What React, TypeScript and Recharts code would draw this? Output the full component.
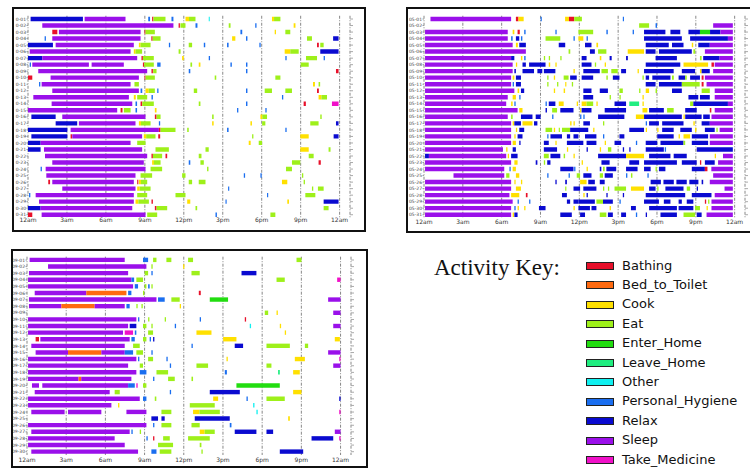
import React from 'react'
import { BarChart, Bar, XAxis, YAxis, CartesianGrid, Cell } from 'recharts'

type Seg = [string, number, number]

const ACTIVITIES = ['Bathing', 'Bed_to_Toilet', 'Cook', 'Eat', 'Enter_Home', 'Leave_Home', 'Other', 'Personal_Hygiene', 'Relax', 'Sleep', 'Take_Medicine']
const CODES = ['B', 'T', 'C', 'E', 'H', 'L', 'O', 'P', 'R', 'S', 'M']
const COLORS = ['#e8102a', '#ff6a10', '#ffe000', '#9ef01a', '#22dd10', '#20ee80', '#10f0f0', '#1a6ef0', '#0a0ad0', '#9a10ea', '#f010c8']

const HOUR_TICKS = [0, 3, 6, 9, 12, 15, 18, 21, 24]
const HOUR_LABELS = ['12am', '3am', '6am', '9am', '12pm', '3pm', '6pm', '9pm', '12am']

const DAYS_A = ['0-01', '0-02', '0-03', '0-04', '0-05', '0-06', '0-07', '0-08', '0-09', '0-10', '0-11', '0-12', '0-13', '0-14', '0-15', '0-16', '0-17', '0-18', '0-19', '0-20', '0-21', '0-22', '0-23', '0-24', '0-25', '0-26', '0-27', '0-28', '0-29', '0-30', '0-31']
const DAYS_B = ['05-01', '05-02', '05-03', '05-04', '05-05', '05-06', '05-07', '05-08', '05-09', '05-10', '05-11', '05-12', '05-13', '05-14', '05-15', '05-16', '05-17', '05-18', '05-19', '05-20', '05-21', '05-22', '05-23', '05-24', '05-25', '05-26', '05-27', '05-28', '05-29', '05-30', '05-31']
const DAYS_C = ['09-01', '09-02', '09-03', '09-04', '09-05', '09-06', '09-07', '09-08', '09-09', '09-10', '09-11', '09-12', '09-13', '09-14', '09-15', '09-16', '09-17', '09-18', '09-19', '09-20', '09-21', '09-22', '09-23', '09-24', '09-25', '09-26', '09-27', '09-28', '09-29', '09-30']

const SEGS_A: Seg[][] = [
  [['R', 0.2, 4.23], ['S', 4.36, 7.51], ['P', 9.26, 9.4], ['B', 9.56, 9.66], ['E', 9.66, 10.59], ['P', 11.05, 11.2], ['C', 12.13, 12.4], ['E', 12.4, 12.9], ['O', 13.92, 14.0], ['C', 18.79, 18.95], ['E', 18.95, 19.44]],
  [['S', 1.1, 11.2], ['B', 11.6, 11.7], ['E', 11.74, 12.13], ['P', 12.9, 13.05], ['E', 15.46, 15.6], ['P', 17.5, 17.6], ['C', 20.46, 20.6]],
  [['B', 1.87, 2.26], ['S', 2.38, 8.67], ['B', 8.97, 9.05], ['E', 9.05, 9.77], ['P', 16.36, 16.5], ['C', 19.0, 19.1], ['E', 19.82, 20.2]],
  [['P', 1.28, 1.38], ['S', 1.87, 8.67], ['B', 9.5, 9.6], ['E', 9.6, 10.21], ['C', 15.72, 15.97], ['P', 16.79, 16.9], ['E', 21.49, 21.87], ['R', 23.5, 23.92]],
  [['R', 0, 1.92], ['S', 2.13, 8.15], ['C', 8.54, 8.67], ['E', 8.67, 9.44], ['P', 10.85, 10.95], ['E', 12.38, 12.64], ['P', 13.54, 13.65], ['P', 15.33, 15.45], ['P', 17.82, 17.92], ['B', 22.26, 22.4], ['E', 22.51, 22.77]],
  [['S', 0.13, 7.9], ['C', 8.15, 8.28], ['E', 8.28, 8.79], ['E', 11.6, 11.75], ['C', 19.77, 20.2], ['E', 20.2, 20.85], ['R', 22.51, 23.92]],
  [['R', 0, 1.1], ['S', 1.1, 8.41], ['B', 8.74, 8.85], ['E', 8.85, 9.69], ['C', 11.87, 12.0], ['P', 13.92, 14.02], ['P', 19.82, 19.92], ['E', 21.41, 22.26], ['P', 22.77, 22.87]],
  [['P', 0.13, 0.23], ['S', 0.33, 4.69], ['S', 4.9, 7.38], ['B', 8.85, 8.95], ['E', 8.95, 9.69], ['P', 9.95, 10.21], ['E', 12.51, 12.64], ['C', 13.15, 13.28], ['P', 15.59, 15.7], ['P', 16.79, 16.9], ['E', 21.0, 21.62]],
  [['S', 0.79, 9.18], ['B', 9.51, 9.62], ['E', 9.64, 9.9], ['P', 12.38, 12.5], ['P', 16.79, 16.9], ['B', 23.72, 23.92]],
  [['B', 0, 0.33], ['S', 1.74, 8.54], ['B', 8.97, 9.05], ['E', 9.05, 9.77], ['E', 14.38, 14.5], ['E', 19.05, 19.44]],
  [['P', 0.85, 0.95], ['S', 1.05, 7.9], ['E', 8.2, 8.54], ['C', 21.95, 22.1], ['E', 22.38, 22.5]],
  [['S', 1.87, 8.54], ['P', 8.67, 8.8], ['C', 9.05, 9.3], ['E', 9.3, 9.77], ['P', 9.95, 10.05], ['E', 12.77, 13.03], ['P', 16.79, 16.9], ['E', 18.23, 18.79], ['E', 19.82, 20.33], ['B', 22.26, 22.4]],
  [['S', 0.41, 7.77], ['C', 8.15, 8.3], ['E', 8.41, 9.18], ['P', 9.51, 9.62], ['P', 19.56, 19.66], ['C', 22.38, 22.6], ['E', 22.6, 23.03]],
  [['S', 1.82, 8.03], ['P', 8.28, 8.4], ['B', 8.67, 8.8], ['E', 8.8, 9.69], ['E', 13.15, 13.28], ['P', 16.79, 16.9], ['B', 21.23, 21.4], ['M', 23.41, 23.92]],
  [['S', 0, 6.87], ['B', 7.13, 7.28], ['E', 7.38, 7.9], ['P', 8.28, 8.4], ['C', 9.77, 9.9], ['P', 16.1, 16.2], ['P', 18.28, 18.38]],
  [['R', 0.26, 2.13], ['S', 2.64, 9.05], ['B', 9.77, 9.9], ['E', 9.9, 10.21], ['E', 14.18, 14.3], ['C', 17.9, 18.05], ['E', 18.05, 18.41], ['E', 22.51, 22.62]],
  [['R', 2.13, 3.79], ['S', 3.92, 8.28], ['C', 8.54, 8.7], ['E', 8.7, 9.44], ['P', 10.08, 10.18], ['C', 14.18, 14.3], ['C', 17.13, 17.25], ['E', 18.03, 18.28], ['E', 21.74, 22.38], ['R', 23.72, 23.92]],
  [['R', 0, 3.03], ['S', 3.28, 10.08], ['B', 10.08, 10.21], ['E', 10.21, 11.36], ['E', 12.26, 12.38], ['P', 15.33, 15.45], ['P', 19.82, 19.92]],
  [['R', 0.26, 3.03], ['B', 3.28, 3.4], ['S', 3.41, 8.79], ['C', 8.92, 9.1], ['E', 9.1, 9.82], ['B', 10.03, 10.18], ['E', 17.26, 17.36], ['C', 20.97, 21.62], ['R', 23.54, 23.92]],
  [['R', 0, 0.97], ['S', 0.97, 7.9], ['E', 8.41, 9.05], ['C', 17.0, 17.15], ['E', 17.77, 18.03]],
  [['R', 0, 0.97], ['S', 1.23, 8.79], ['E', 9.82, 10.85], ['E', 13.67, 13.92], ['C', 20.97, 21.62], ['E', 23.15, 23.3]],
  [['S', 1.31, 9.18], ['B', 9.51, 9.62], ['E', 9.62, 10.33], ['B', 10.59, 10.72], ['E', 13.15, 13.36], ['E', 21.62, 22.0]],
  [['S', 1.87, 8.92], ['C', 9.56, 9.7], ['E', 9.7, 10.21], ['P', 12.38, 12.5], ['E', 13.28, 13.54], ['E', 20.33, 20.97], ['B', 22.38, 22.55]],
  [['P', 0.97, 1.07], ['S', 1.36, 9.05], ['E', 9.44, 10.33], ['E', 13.79, 13.9], ['E', 19.87, 20.33]],
  [['S', 1.41, 8.28], ['E', 8.67, 9.56], ['E', 11.87, 12.13], ['P', 16.62, 16.72], ['P', 17.9, 18.0], ['E', 21.1, 21.2]],
  [['B', 1.56, 1.7], ['S', 1.87, 8.15], ['B', 8.41, 8.5], ['C', 8.54, 8.7], ['E', 8.7, 9.18], ['E', 12.38, 12.64], ['E', 13.15, 13.67], ['C', 19.56, 19.97], ['E', 21.23, 21.33]],
  [['S', 2.64, 8.28], ['C', 8.41, 8.6], ['E', 8.6, 9.44], ['P', 15.41, 15.5], ['E', 21.87, 21.97], ['E', 22.33, 22.77]],
  [['P', 0.08, 0.18], ['S', 0.59, 8.15], ['E', 8.41, 9.18], ['E', 11.36, 12.13], ['P', 18.41, 18.5], ['E', 21.36, 22.13]],
  [['S', 0.85, 8.15], ['C', 8.28, 8.5], ['E', 8.5, 9.31], ['B', 9.51, 9.62], ['C', 12.26, 12.5], ['P', 15.21, 15.3], ['C', 19.97, 20.1], ['R', 22.77, 23.92]],
  [['R', 0, 0.97], ['S', 0.97, 8.03], ['B', 9.77, 9.9], ['E', 9.9, 10.72], ['E', 12.9, 13.03], ['E', 22.77, 23.15]],
  [['B', 0, 0.33], ['S', 1.05, 9.05], ['E', 9.18, 9.95], ['P', 14.44, 14.55], ['E', 18.67, 19.05]],
]

const SEGS_B: Seg[][] = [
  [['S', 0.5, 6.73], ['B', 7.1, 7.3], ['C', 7.3, 7.7], ['P', 9.01, 9.1], ['C', 10.9, 11.2], ['B', 11.2, 11.6], ['E', 11.6, 12.2], ['P', 15.36, 15.45]],
  [['E', 16.62, 17.39], ['P', 17.89, 18.0], ['S', 22.34, 23.86]],
  [['S', 0.08, 6.47], ['C', 6.85, 6.98], ['B', 7.23, 7.4], ['P', 7.74, 7.85], ['P', 10.15, 10.25], ['E', 11.93, 13.07], ['P', 14.09, 14.2], ['P', 16.12, 16.22], ['R', 17.0, 18.65], ['R', 19.04, 19.8], ['R', 20.43, 21.32], ['H', 21.32, 22.1], ['R', 22.1, 22.9], ['S', 22.9, 23.86]],
  [['S', 0.08, 6.47], ['P', 6.73, 6.85], ['R', 7.1, 7.36], ['P', 7.49, 7.6], ['E', 9.39, 10.53], ['P', 11.55, 11.65], ['C', 11.93, 12.31], ['P', 12.56, 12.66], ['R', 17.0, 19.92], ['R', 20.56, 23.48], ['S', 23.48, 23.86]],
  [['S', 0.08, 6.85], ['C', 7.1, 7.25], ['R', 7.36, 7.87], ['R', 10.41, 10.91], ['R', 12.44, 12.94], ['C', 13.32, 13.45], ['R', 17.13, 18.91], ['R', 19.16, 20.05], ['C', 20.69, 20.8], ['R', 21.19, 22.08], ['S', 22.08, 23.86]],
  [['S', 0.08, 7.87], ['E', 11.17, 11.3], ['R', 12.82, 13.2], ['E', 13.45, 14.09], ['C', 15.74, 17.0], ['R', 17.13, 17.89], ['R', 18.15, 20.69], ['E', 20.81, 20.95], ['S', 21.7, 23.86]],
  [['S', 0.08, 6.73], ['R', 6.73, 6.98], ['C', 7.49, 7.6], ['P', 7.74, 7.85], ['E', 9.26, 9.36], ['E', 9.64, 9.74], ['E', 10.53, 10.63], ['R', 12.18, 12.56], ['C', 13.58, 13.7], ['R', 14.34, 14.5], ['R', 15.61, 15.75], ['R', 17.89, 19.54], ['E', 21.32, 21.45], ['R', 21.57, 22.84], ['S', 22.84, 23.86]],
  [['S', 0.08, 6.85], ['C', 7.1, 7.2], ['R', 7.61, 7.87], ['R', 8.12, 9.39], ['C', 9.64, 9.75], ['C', 10.15, 10.25], ['R', 12.18, 12.94], ['E', 13.2, 13.3], ['C', 13.96, 14.06], ['R', 17.13, 19.8], ['C', 20.05, 21.95], ['B', 22.21, 22.4], ['S', 22.46, 23.86]],
  [['S', 0.08, 6.85], ['R', 6.98, 7.1], ['R', 7.61, 8.5], ['R', 8.76, 9.14], ['R', 9.26, 10.15], ['C', 11.55, 11.65], ['R', 12.31, 13.58], ['E', 13.71, 14.21], ['E', 14.47, 14.97], ['R', 15.23, 15.61], ['C', 16.5, 16.6], ['R', 17.0, 19.29], ['R', 19.92, 20.94], ['C', 21.32, 21.45], ['R', 21.45, 22.08], ['S', 22.34, 23.86]],
  [['S', 0.08, 6.73], ['C', 6.85, 6.98], ['R', 7.1, 7.49], ['E', 9.52, 9.62], ['C', 10.03, 10.13], ['E', 10.79, 11.17], ['R', 11.29, 11.8], ['R', 12.18, 13.07], ['E', 14.09, 14.2], ['R', 14.59, 15.1], ['E', 16.88, 16.98], ['R', 17.13, 17.39], ['R', 17.64, 19.04], ['E', 19.16, 19.3], ['R', 19.67, 20.18], ['E', 20.18, 20.3], ['R', 20.56, 21.32], ['B', 21.45, 21.6], ['S', 21.7, 23.86]],
  [['S', 0.08, 6.73], ['P', 6.85, 6.95], ['R', 7.1, 7.49], ['E', 9.52, 9.62], ['E', 10.28, 10.38], ['C', 10.91, 11.0], ['E', 11.42, 11.52], ['R', 17.13, 17.89], ['R', 18.15, 19.92], ['E', 19.92, 21.3], ['B', 21.45, 21.6], ['S', 21.83, 23.86]],
  [['S', 0.08, 6.98], ['C', 7.23, 7.35], ['R', 7.49, 7.74], ['C', 10.03, 10.13], ['C', 10.79, 10.9], ['R', 12.31, 12.94], ['R', 13.58, 14.21], ['E', 15.1, 15.36], ['E', 16.62, 16.72], ['C', 17.13, 17.39], ['E', 17.89, 18.0], ['R', 19.16, 19.92], ['E', 21.45, 22.08], ['S', 22.46, 23.86]],
  [['S', 0.08, 6.47], ['C', 6.85, 7.1], ['P', 7.36, 7.46], ['R', 12.31, 13.07], ['E', 14.34, 14.44], ['E', 15.1, 15.2], ['C', 16.88, 16.98], ['R', 20.43, 21.19], ['R', 21.32, 22.08], ['S', 22.46, 23.86]],
  [['S', 0.08, 6.35], ['C', 6.73, 6.85], ['P', 6.98, 7.08], ['P', 9.39, 9.49], ['R', 9.64, 10.15], ['C', 10.41, 10.79], ['C', 11.8, 11.9], ['C', 12.18, 12.56], ['E', 12.56, 13.07], ['C', 13.32, 13.42], ['R', 14.72, 15.61], ['L', 15.86, 16.62], ['C', 16.88, 16.98], ['E', 20.56, 20.81], ['R', 20.81, 23.48], ['S', 23.48, 23.86]],
  [['S', 0.08, 7.23], ['C', 7.36, 7.61], ['R', 9.39, 9.5], ['E', 9.9, 10.28], ['R', 10.53, 11.55], ['C', 12.06, 12.16], ['R', 12.18, 12.94], ['R', 13.96, 15.61], ['C', 16.88, 17.26], ['R', 17.39, 18.53], ['E', 18.78, 19.29], ['R', 20.18, 21.07], ['B', 22.08, 22.2], ['S', 22.46, 23.86]],
  [['S', 0.08, 6.47], ['E', 6.73, 6.85], ['R', 7.49, 8.38], ['R', 8.63, 9.01], ['P', 9.9, 10.0], ['P', 12.06, 12.16], ['P', 12.31, 12.41], ['R', 13.45, 15.48], ['C', 16.37, 17.0], ['R', 17.0, 19.92], ['C', 20.05, 20.15], ['R', 20.18, 21.45], ['R', 21.57, 22.08], ['S', 22.21, 23.86]],
  [['S', 0.08, 6.73], ['C', 6.85, 6.98], ['R', 6.98, 7.49], ['C', 7.61, 8.38], ['R', 8.5, 8.76], ['C', 11.29, 11.4], ['C', 11.55, 11.65], ['R', 12.31, 12.82], ['E', 13.83, 13.93], ['P', 17.13, 17.23], ['R', 17.39, 18.15], ['R', 18.4, 20.05], ['C', 20.81, 20.92], ['R', 21.45, 22.08], ['S', 22.08, 23.86]],
  [['S', 0.08, 6.73], ['C', 7.1, 7.2], ['R', 7.36, 7.74], ['E', 9.39, 9.9], ['C', 10.03, 10.13], ['E', 10.41, 10.5], ['E', 10.66, 11.29], ['R', 11.29, 12.69], ['C', 13.07, 13.17], ['R', 15.86, 17.0], ['C', 17.13, 17.23], ['C', 18.02, 18.12], ['R', 18.4, 19.29], ['R', 19.8, 20.69], ['C', 20.94, 21.05], ['R', 21.7, 22.46], ['E', 22.59, 22.69], ['S', 22.84, 23.86]],
  [['S', 0.08, 6.73], ['C', 6.98, 7.08], ['R', 7.23, 7.61], ['P', 9.52, 9.62], ['R', 9.77, 10.66], ['R', 11.04, 11.29], ['R', 11.55, 11.93], ['R', 12.44, 13.32], ['P', 13.83, 13.93], ['R', 15.1, 15.48], ['R', 18.02, 19.29], ['C', 19.67, 19.77], ['C', 20.05, 20.56], ['R', 20.69, 21.95], ['S', 22.08, 23.86]],
  [['S', 0.08, 6.73], ['C', 6.85, 7.1], ['R', 7.36, 7.46], ['R', 9.26, 9.64], ['C', 10.15, 10.25], ['R', 11.04, 12.31], ['R', 12.56, 13.32], ['C', 13.96, 14.06], ['R', 14.72, 15.23], ['P', 16.37, 16.47], ['R', 17.13, 18.02], ['R', 18.27, 20.05], ['E', 20.05, 20.18], ['R', 20.69, 21.95], ['S', 22.08, 23.86]],
  [['S', 0.08, 6.1], ['C', 6.35, 6.45], ['R', 6.85, 7.1], ['R', 9.26, 10.28], ['C', 11.04, 11.14], ['R', 12.56, 12.66], ['C', 13.58, 13.68], ['E', 14.21, 14.47], ['R', 15.36, 15.46], ['R', 15.86, 15.96], ['R', 17.13, 18.53], ['P', 18.6, 18.7], ['R', 21.07, 23.86]],
  [['R', 0.08, 0.38], ['S', 0.38, 6.35], ['C', 6.47, 6.57], ['R', 6.73, 7.23], ['E', 9.26, 9.64], ['R', 9.77, 10.53], ['E', 10.79, 10.9], ['C', 11.55, 11.65], ['R', 13.45, 15.61], ['C', 15.61, 17.0], ['R', 17.39, 19.04], ['R', 19.29, 20.3], ['C', 22.46, 22.56], ['S', 23.1, 23.86]],
  [['S', 0.08, 6.73], ['C', 6.98, 7.23], ['R', 8.63, 8.76], ['E', 9.26, 9.36], ['R', 9.52, 9.77], ['C', 12.18, 12.28], ['R', 13.71, 14.34], ['R', 15.86, 16.62], ['R', 17.0, 19.54], ['R', 19.92, 21.07], ['B', 21.32, 21.42], ['R', 21.7, 22.46], ['S', 22.72, 23.86]],
  [['S', 0.08, 6.2], ['P', 6.6, 6.7], ['C', 6.85, 7.1], ['R', 10.53, 11.55], ['P', 11.6, 11.7], ['C', 12.56, 12.66], ['R', 13.58, 13.7], ['E', 13.83, 13.96], ['R', 14.09, 14.85], ['R', 15.61, 16.5], ['R', 17.0, 17.51], ['E', 17.89, 17.99], ['R', 18.15, 18.65], ['R', 20.69, 21.7], ['B', 21.7, 21.9], ['S', 22.2, 23.86]],
  [['S', 2.28, 6.2], ['E', 6.35, 6.6], ['C', 7.1, 7.36], ['P', 9.52, 9.62], ['P', 11.17, 11.27], ['E', 11.8, 12.06], ['R', 12.31, 12.94], ['E', 13.58, 13.83], ['R', 13.96, 14.59], ['P', 15.61, 15.71], ['E', 15.99, 16.1], ['P', 17.26, 17.36], ['S', 22.34, 23.86]],
  [['S', 0.08, 6.73], ['C', 6.98, 7.08], ['C', 7.49, 7.59], ['R', 10.15, 10.25], ['R', 10.91, 11.04], ['C', 12.06, 12.56], ['R', 12.69, 13.2], ['R', 13.58, 13.96], ['R', 17.51, 18.3], ['R', 18.5, 19.3], ['R', 19.5, 20.3], ['R', 20.5, 21.2], ['R', 21.45, 21.57], ['S', 22.08, 23.86]],
  [['S', 0.08, 6.73], ['C', 7.1, 7.49], ['E', 10.91, 11.0], ['R', 11.55, 12.06], ['R', 12.31, 13.32], ['E', 13.83, 13.93], ['E', 14.21, 14.31], ['E', 14.72, 15.61], ['C', 15.99, 17.0], ['R', 17.39, 17.89], ['E', 18.02, 18.12], ['R', 18.65, 20.05], ['E', 20.3, 20.56], ['R', 21.07, 21.17], ['S', 23.22, 23.86]],
  [['S', 0.08, 6.6], ['C', 6.73, 7.36], ['B', 7.87, 8.0], ['R', 10.66, 11.04], ['C', 12.31, 12.41], ['R', 12.56, 12.66], ['R', 14.09, 14.19], ['R', 15.36, 15.46], ['R', 17.13, 20.18], ['R', 20.69, 22.21], ['S', 22.46, 23.86]],
  [['S', 0.08, 6.85], ['P', 7.23, 7.33], ['P', 8.12, 8.22], ['R', 11.04, 11.29], ['R', 11.55, 11.93], ['R', 11.93, 13.2], ['E', 13.32, 13.83], ['R', 13.83, 14.59], ['P', 15.1, 15.2], ['R', 17.0, 18.15], ['R', 18.53, 19.04], ['R', 19.67, 19.92], ['R', 20.3, 20.81], ['B', 21.7, 21.8], ['E', 21.95, 22.05], ['S', 22.21, 23.86]],
  [['S', 0.08, 6.73], ['P', 6.98, 7.08], ['C', 7.23, 7.33], ['C', 7.74, 7.84], ['R', 8.88, 9.39], ['C', 11.55, 11.65], ['R', 11.93, 12.82], ['R', 12.94, 13.32], ['C', 14.34, 14.44], ['R', 15.99, 16.37], ['R', 17.39, 19.54], ['R', 19.67, 20.81], ['E', 20.94, 21.32], ['C', 21.83, 21.93], ['S', 22.21, 23.86]],
  [['S', 0.08, 6.73], ['C', 6.85, 6.95], ['R', 6.98, 7.23], ['R', 10.53, 11.42], ['R', 12.06, 12.44], ['E', 13.58, 14.09], ['R', 14.21, 14.59], ['R', 15.23, 15.61], ['P', 16.37, 16.47], ['R', 17.13, 17.23], ['R', 18.27, 19.54], ['E', 20.05, 20.94], ['R', 21.07, 21.45], ['S', 21.83, 23.86]],
]

const SEGS_C: Seg[][] = [
  [['S', 0.2, 7.48], ['P', 8.88, 9.27], ['E', 9.65, 9.91], ['E', 10.67, 11.05], ['E', 12.33, 12.71], ['E', 20.63, 21.01]],
  [['S', 1.61, 9.14], ['E', 9.52, 9.62], ['C', 11.95, 12.05]],
  [['S', 0.15, 7.74], ['E', 9.01, 9.27], ['P', 9.52, 9.62], ['E', 12.59, 13.22], ['R', 16.42, 17.56]],
  [['S', 0.08, 7.99], ['P', 7.99, 8.2], ['E', 8.37, 8.88], ['E', 19.1, 19.73], ['M', 23.74, 24]],
  [['S', 0.08, 8.12], ['P', 8.25, 8.5], ['E', 9.01, 9.14], ['P', 9.27, 9.39], ['E', 9.52, 9.62]],
  [['S', 0.59, 4.54], ['T', 4.54, 7.61], ['P', 7.74, 7.99], ['E', 8.88, 8.98], ['B', 13.15, 13.3]],
  [['S', 0.15, 9.91], ['P', 10.03, 10.54], ['E', 11.05, 11.69], ['H', 13.99, 15.39], ['S', 23.05, 24]],
  [['S', 0.15, 2.63], ['T', 2.63, 5.18], ['S', 5.18, 7.48], ['P', 7.61, 7.86], ['E', 8.37, 8.47], ['E', 8.76, 8.86], ['C', 11.69, 11.79]],
  [['E', 18.2, 18.46], ['C', 19.1, 19.2], ['S', 23.44, 24]],
  [['S', 0.08, 8.37], ['P', 8.5, 8.6], ['E', 9.27, 9.37], ['E', 10.54, 10.64], ['P', 13.22, 13.32], ['B', 16.67, 16.77]],
  [['S', 0.08, 7.74], ['R', 7.86, 8.37], ['E', 8.88, 9.14], ['E', 9.52, 9.62], ['P', 11.31, 11.41], ['O', 17.05, 17.15], ['C', 19.35, 19.45], ['S', 23.44, 24]],
  [['S', 0.08, 7.35], ['M', 7.48, 8.12], ['P', 8.25, 8.37], ['E', 9.27, 9.65], ['C', 12.97, 14.12], ['C', 19.73, 19.83]],
  [['B', 0.66, 0.92], ['S', 1.02, 7.86], ['P', 7.99, 8.25], ['E', 8.88, 9.14], ['P', 9.39, 9.49], ['R', 9.65, 9.75], ['C', 15.01, 16.03], ['C', 23.56, 23.95]],
  [['S', 0.33, 7.48], ['E', 8.12, 8.63], ['P', 12.59, 12.69], ['R', 15.9, 16.54], ['E', 18.33, 20.12], ['E', 21.27, 21.52]],
  [['S', 0.66, 3.14], ['T', 3.14, 5.69], ['S', 5.69, 7.48], ['P', 7.48, 8.12], ['E', 8.37, 8.88], ['P', 9.52, 9.62], ['S', 23.05, 24]],
  [['S', 0.08, 8.37], ['P', 8.5, 8.6], ['E', 9.27, 9.65], ['P', 10.67, 10.77], ['C', 15.27, 15.37], ['C', 20.5, 21.27], ['M', 23.9, 24]],
  [['S', 0.08, 7.74], ['E', 8.63, 8.88], ['P', 10.93, 11.03], ['E', 12.97, 13.86], ['E', 18.33, 18.71], ['S', 23.44, 24]],
  [['S', 0.08, 8.37], ['P', 8.63, 9.14], ['E', 9.91, 10.8], ['P', 15.14, 15.3], ['L', 19.22, 19.35], ['C', 20.37, 20.88]],
  [['S', 0.08, 3.95], ['T', 3.95, 4.15], ['S', 4.15, 7.99], ['P', 9.65, 9.75], ['E', 10.8, 11.31], ['E', 12.59, 12.71]],
  [['S', 0.38, 0.92], ['S', 1.17, 7.74], ['P', 7.74, 8.25], ['M', 8.37, 8.47], ['E', 8.88, 9.14], ['H', 16.03, 19.35]],
  [['S', 0.59, 6.33], ['E', 6.71, 7.1], ['P', 10.93, 11.03], ['R', 13.99, 16.29], ['C', 20.37, 21.01]],
  [['S', 0.08, 8.63], ['P', 8.88, 9.14], ['E', 9.78, 9.9], ['C', 14.25, 14.63], ['P', 16.8, 16.9], ['E', 18.33, 19.73], ['R', 23.9, 24]],
  [['S', 0.08, 6.46], ['C', 6.97, 7.07], ['E', 12.46, 14.37], ['O', 17.31, 17.41]],
  [['S', 0.33, 2.88], ['S', 3.14, 5.69], ['S', 7.61, 9.14], ['E', 10.29, 11.05], ['C', 12.71, 13.2], ['E', 13.2, 14.76], ['O', 17.56, 17.66], ['M', 23.9, 24]],
  [['R', 9.52, 10.03], ['R', 10.29, 10.54], ['R', 12.84, 15.52], ['C', 19.99, 20.12]],
  [['S', 0.08, 9.14], ['P', 9.65, 9.75], ['E', 10.29, 11.05], ['E', 12.59, 13.22], ['P', 15.52, 15.65]],
  [['S', 0.33, 7.86], ['P', 7.99, 8.09], ['E', 8.63, 8.73], ['C', 13.22, 13.6], ['E', 13.6, 14.37], ['R', 15.9, 17.56], ['R', 18.33, 18.84], ['S', 23.56, 24]],
  [['S', 0.08, 6.71], ['P', 9.14, 9.24], ['B', 9.65, 9.75], ['E', 10.42, 10.93], ['E', 12.33, 13.99], ['R', 21.78, 23.44], ['M', 23.9, 24]],
  [['S', 0.08, 7.48], ['E', 10.03, 11.18], ['E', 13.22, 13.35]],
  [['S', 0.33, 8.5], ['P', 9.52, 9.91], ['E', 10.16, 11.05], ['E', 13.35, 13.45], ['R', 19.35, 21.14]],
]

const colorOf = (code: string) => COLORS[CODES.indexOf(code)] || 'none'

// turn each day's segments into stacked gap/value pairs
function toRows(days: string[], segs: Seg[][]) {
  const n = Math.max(...segs.map(s => s.length))
  const rows = days.map((day, i) => {
    const row: Record<string, any> = { day }
    const list = [...segs[i]].sort((a, b) => a[1] - b[1])
    let t = 0
    for (let k = 0; k < n; k++) {
      const s = list[k]
      if (s) {
        const a = Math.max(s[1], t)
        row['g' + k] = a - t
        row['v' + k] = Math.max(0, s[2] - a)
        row['c' + k] = s[0]
        t = Math.max(t, s[2])
      } else {
        row['g' + k] = 0
        row['v' + k] = 0
        row['c' + k] = ''
      }
    }
    return row
  })
  return { rows, n }
}

interface PanelProps {
  days: string[]
  segs: Seg[][]
  frame: { left: number; top: number; width: number; height: number }
  left: number
  top: number
  width: number
  height: number
  yWidth: number
  marginTop: number
  tickMargin: number
}

function Panel({ days, segs, frame, left, top, width, height, yWidth, marginTop, tickMargin }: PanelProps) {
  const { rows, n } = toRows(days, segs)
  const keys = Array.from({ length: n }, (_, k) => k)
  return (
    <>
      <div style={{ position: 'absolute', left: frame.left, top: frame.top, width: frame.width, height: frame.height, border: '2px solid #111', boxSizing: 'border-box' }} />
      <div style={{ position: 'absolute', left, top }}>
        <BarChart width={width} height={height} data={rows} layout="vertical" margin={{ top: marginTop, right: 0, bottom: 0, left: 0 }} barSize={4.4}>
          <CartesianGrid horizontal={false} stroke="#888" strokeDasharray="3 1.5 1 1.5" />
          <XAxis type="number" domain={[0, 24.8]} allowDataOverflow ticks={HOUR_TICKS} interval={0}
            tickFormatter={(v: number) => HOUR_LABELS[HOUR_TICKS.indexOf(v)]}
            axisLine={false} tickLine={false} tickSize={0} tickMargin={tickMargin} height={12}
            tick={{ fontSize: 6, fill: '#333', fontFamily: 'DejaVu Sans' }} />
          <YAxis type="category" dataKey="day" width={yWidth} interval={0} axisLine={false}
            tickSize={1.5} tickMargin={0.5} tickLine={{ stroke: '#999' }}
            tick={{ fontSize: 4.5, fill: '#444', fontFamily: 'DejaVu Sans' }} />
          <YAxis yAxisId="r" orientation="right" type="category" dataKey="day" width={4} interval={0}
            axisLine={false} tickSize={3} tickLine={{ stroke: '#aaa' }} tickFormatter={() => ''} />
          {keys.flatMap(k => [
            <Bar key={'g' + k} dataKey={'g' + k} stackId="a" fill="none" isAnimationActive={false} />,
            <Bar key={'v' + k} dataKey={'v' + k} stackId="a" isAnimationActive={false}>
              {rows.map((r, i) => <Cell key={i} fill={colorOf(r['c' + k])} />)}
            </Bar>,
          ])}
        </BarChart>
      </div>
    </>
  )
}

export default function App() {
  return (
    <div style={{ position: 'absolute', left: 0, top: 0, width: 750, height: 473, background: '#fff', overflow: 'hidden' }}>
      <Panel days={DAYS_A} segs={SEGS_A} frame={{ left: 12, top: 7, width: 354, height: 225 }}
        left={14} top={9} width={340} height={221} yWidth={14} marginTop={6.75} tickMargin={0} />
      <Panel days={DAYS_B} segs={SEGS_B} frame={{ left: 406, top: 7, width: 350, height: 226 }}
        left={408} top={9} width={341} height={221} yWidth={16} marginTop={6.75} tickMargin={2} />
      <Panel days={DAYS_C} segs={SEGS_C} frame={{ left: 11, top: 249, width: 357, height: 219 }}
        left={13} top={251} width={342} height={216} yWidth={14} marginTop={5.7} tickMargin={3} />

      <div style={{ position: 'absolute', left: 434, top: 254, fontFamily: '"Liberation Serif", serif', fontSize: 23, lineHeight: '28px', color: '#111', whiteSpace: 'nowrap' }}>
        Activity Key:
      </div>
      {ACTIVITIES.map((name, i) => {
        const cy = 266 + 19.4 * i
        return (
          <React.Fragment key={name}>
            <div style={{ position: 'absolute', left: 586, top: cy - 4, width: 28, height: 8, background: COLORS[i], border: '1px solid #222', boxSizing: 'border-box' }} />
            <div style={{ position: 'absolute', left: 622, top: cy - 8.5, fontFamily: '"DejaVu Sans", sans-serif', fontSize: 13, lineHeight: '16px', color: '#111', whiteSpace: 'nowrap' }}>
              {name}
            </div>
          </React.Fragment>
        )
      })}
    </div>
  )
}
